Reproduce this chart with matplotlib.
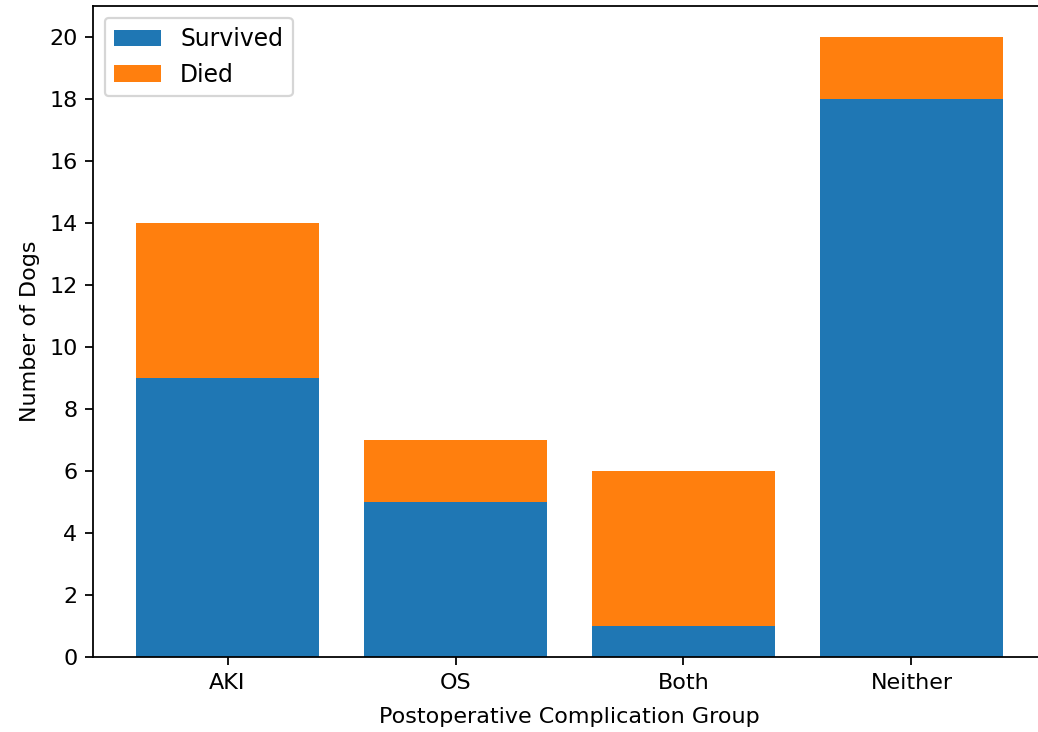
import matplotlib
matplotlib.use("Agg")
import matplotlib.pyplot as plt

categories = ["AKI", "OS", "Both", "Neither"]
survived = [9, 5, 1, 18]
died = [5, 2, 5, 2]

fig = plt.figure(figsize=(1038/160, 732/160), dpi=160)
ax = fig.add_axes([93/1038, 1-657/732, (1046-93)/1038, (657-6)/732])
ax.bar(categories, survived, label="Survived", color="#1f77b4")
ax.bar(categories, died, bottom=survived, label="Died", color="#ff7f0e")
ax.set_xlabel("Postoperative Complication Group", labelpad=6.5)
ax.set_ylabel("Number of Dogs")
ax.set_yticks(range(0, 21, 2))
ax.spines["right"].set_visible(False)
ax.legend(loc="upper left", fontsize=10.6)
fig.savefig("out.png", dpi=160)
